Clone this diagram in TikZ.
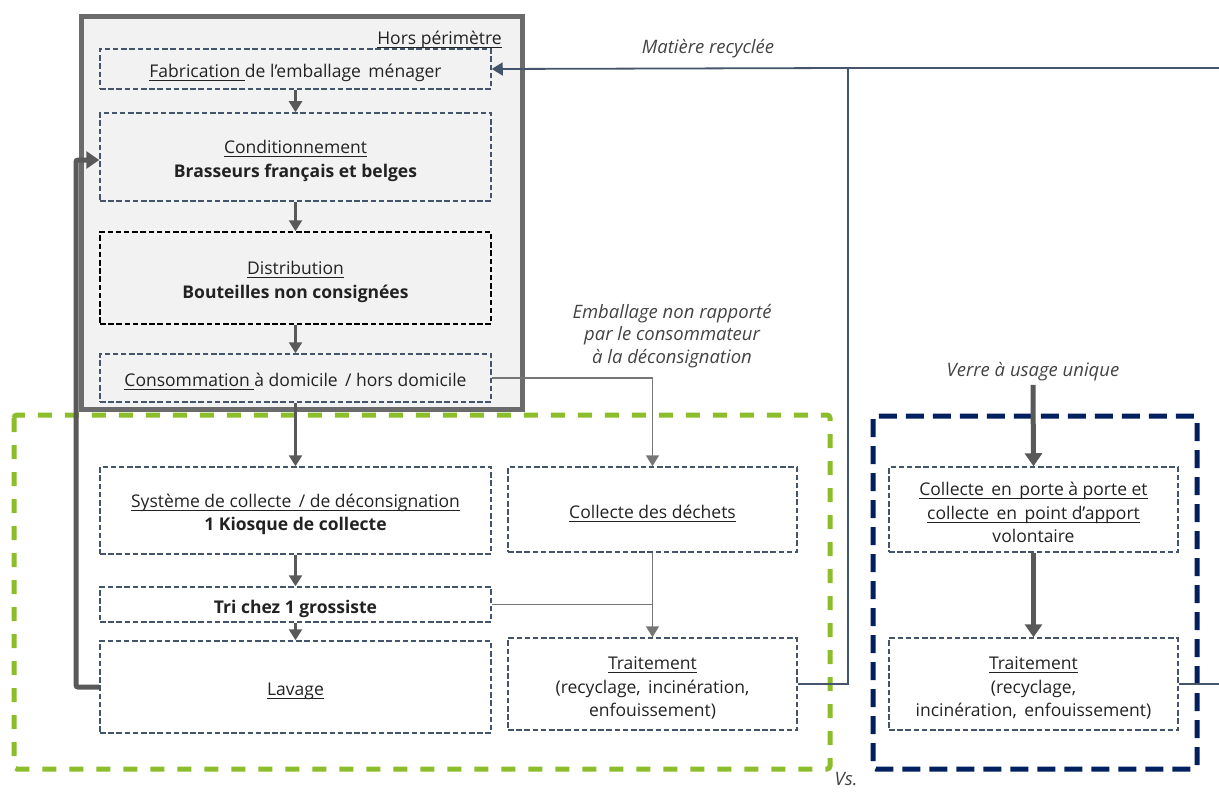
\documentclass[tikz,border=0pt]{standalone}
\usepackage{fontspec}
\setmainfont{Open Sans}
\usetikzlibrary{arrows.meta}
\definecolor{slate}{HTML}{44546A}
\definecolor{arrowgray}{HTML}{595959}
\definecolor{linkgray}{HTML}{767676}
\definecolor{framegray}{HTML}{6B6B6B}
\definecolor{panelfill}{HTML}{F2F2F2}
\definecolor{kiwi}{HTML}{8CBD2A}
\definecolor{navy}{HTML}{002060}
\definecolor{ink}{HTML}{222222}
\newcommand\ulx[1]{\setbox0\hbox{#1}\rlap{\rule[-3.5pt]{\wd0}{1pt}}\box0}
\tikzset{
  x=1pt, y=-1pt,
  txt/.style={font=\fontsize{17.5}{23.5}\selectfont, text=ink, align=center},
  inbox/.style={txt, yshift=-4pt, inner sep=0pt},
  stage/.style={draw=slate, line width=1.5pt, dash pattern=on 5.5pt off 2.7pt,
    inner sep=0pt, minimum width=391pt},
  wide/.style={stage, minimum width=289pt},
  note/.style={font=\fontsize{18.5}{22.5}\selectfont\itshape, text=ink!85, align=center},
  flow/.style={draw=arrowgray, line width=2.5pt, -{Triangle[width=13pt,length=11pt]}},
  heavy/.style={draw=arrowgray, line width=5pt, -{Triangle[width=17pt,length=13pt]}},
  link/.style={draw=linkgray, line width=1.8pt},
  linkarrow/.style={link, -{Triangle[width=13pt,length=11pt]}},
  back/.style={draw=slate, line width=1.8pt},
}
\begin{document}
\begin{tikzpicture}
\useasboundingbox (0,0) rectangle (1219,792);

% out-of-scope panel
\draw[framegray, fill=panelfill, line width=5pt] (81,17) rectangle (522,409);
\node[txt, anchor=north east, inner sep=0pt] (hors) at (502,31) {\ulx{Hors périmètre}};

% zone frames
\draw[kiwi, line width=5pt, dash pattern=on 14pt off 13pt, rounded corners=3pt]
  (14,415) rectangle (830,769);
\draw[navy, line width=5pt, dash pattern=on 18pt off 9pt, rounded corners=3pt]
  (873,416) rectangle (1197,769);

% reusable-bottle chain
\node[stage, minimum height=40pt, label={[inbox]center:{\ulx{Fabrication }de l’emballage\, ménager}}] (fab) at (295.5,69) {};
\node[stage, minimum height=88pt, label={[inbox]center:{\ulx{Conditionnement}\\\textbf{Brasseurs français et belges}}}] (cond) at (295.5,157) {};
\node[stage, draw=black, minimum height=92pt, label={[inbox]center:{\ulx{Distribution}\\\textbf{Bouteilles non consignées}}}] (dist) at (295.5,278) {};
\node[stage, minimum height=48pt, label={[inbox]center:{\ulx{Consommation }à domicile\, / hors domicile}}] (conso) at (295.5,378) {};
\node[stage, minimum height=87pt, label={[inbox]center:{\ulx{Système de collecte\, / de déconsignation}\\\textbf{1 Kiosque de collecte}}}] (sys) at (295.5,510.5) {};
\node[stage, minimum height=35pt, label={[inbox]center:{\textbf{Tri chez 1 grossiste}}}] (tri) at (295.5,604.5) {};
\node[stage, minimum height=92pt, label={[inbox]center:{\ulx{Lavage}}}] (lav) at (295.5,687) {};

% waste chain
\node[wide, minimum height=85pt, label={[inbox]center:{\ulx{Collecte des déchets}}}] (dech) at (652.5,509.5) {};
\node[wide, minimum height=92pt, label={[inbox]center:{\ulx{Traitement}\\(recyclage,\, incinération,\\enfouissement)}}] (trait) at (652.5,684) {};

% single-use glass chain
\node[wide, minimum height=85pt, label={[inbox, yshift=1pt]center:{\ulx{Collecte\, en\, porte à porte et}\\\ulx{collecte\, en\, point d’apport}\\volontaire}}] (pap) at (1033.5,509.5) {};
\node[wide, minimum height=92pt, label={[inbox]center:{\ulx{Traitement}\\(recyclage,\\incinération,\, enfouissement)}}] (traitu) at (1033.5,684) {};

% labels
\node[note] (mat) at (708,49) {Matière recyclée};
\node[note] (nonrap) at (672,336) {Emballage non rapporté\\par le consommateur\\à la déconsignation};
\node[note] (verre) at (1033,372) {Verre à usage unique};
\node[note, anchor=south, inner sep=0pt] (vs) at (846,786) {Vs.};

% recycled material return
\coordinate (rc) at (848,68);
\coordinate (redge) at (1219,68);
\draw[back] (redge) -- (rc);
\draw[back] (trait.east) -| (rc);
\draw[back, -{Triangle[width=13pt,length=11pt]}] (rc) -- (fab.east);
\draw[back] (traitu.east) -- (traitu.east -| redge);

% main flow arrows
\draw[flow] (fab.south) -- (cond.north);
\draw[flow] (cond.south) -- (dist.north);
\draw[flow] (dist.south) -- (conso.north);
\draw[flow] (conso.south) -- (sys.north);
\draw[flow] (sys.south) -- (tri.north);
\draw[flow] (tri.south) -- (lav.north);

% waste connectors
\draw[linkarrow] (conso.east) -| (dech.north);
\draw[linkarrow] (dech.south) -- (trait.north);
\draw[link] (tri.east) -- (tri.east -| trait.north);

% washed bottles back to filling
\coordinate (loop) at (76,160);
\draw[heavy, rounded corners=2pt] (lav.west) -| (loop) -- (loop -| cond.west);

% single-use glass arrows
\draw[heavy] (verre.south) -- (pap.north);
\draw[heavy] (pap.south) -- (traitu.north);
\end{tikzpicture}
\end{document}
